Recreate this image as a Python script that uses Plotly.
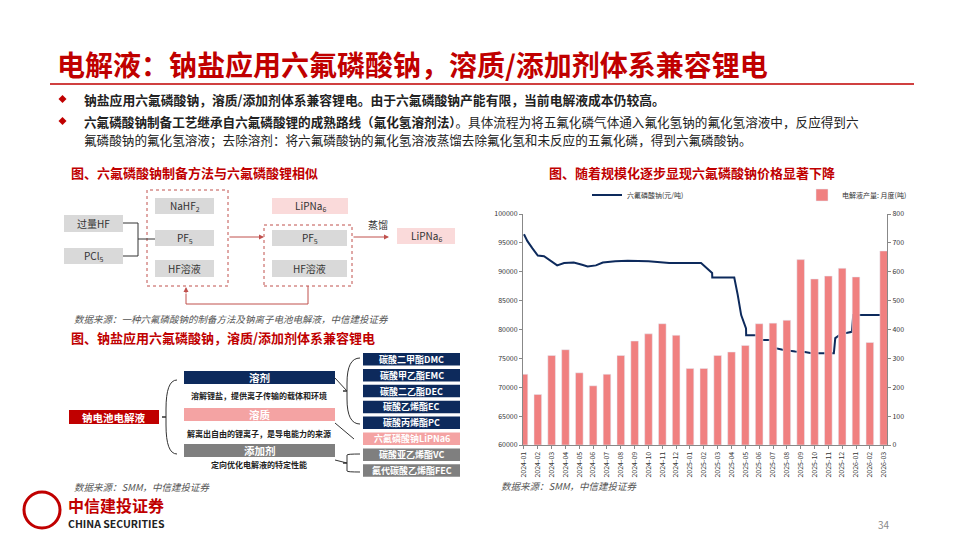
import plotly.graph_objects as go

W, H = 960, 540
FONT = "Noto Sans CJK SC"
RED = "#c00000"
NAVY = "#0d2a5c"
PINK = "#f4a3a3"
GRAY = "#d9d9d9"
DGRAY = "#7f7f7f"

months = ["2024-01", "2024-02", "2024-03", "2024-04", "2024-05", "2024-06", "2024-07",
          "2024-08", "2024-09", "2024-10", "2024-11", "2024-12", "2025-01", "2025-02",
          "2025-03", "2025-04", "2025-05", "2025-06", "2025-07", "2025-08", "2025-09",
          "2025-10", "2025-11", "2025-12", "2026-01", "2026-02", "2026-03"]
output_t = [245, 175, 310, 330, 250, 205, 245, 310, 360, 385, 420, 380, 265, 265,
            310, 322, 345, 420, 422, 432, 642, 575, 585, 612, 582, 355, 672]
# price series, x as month position
price_x = [0, 0.25, 0.6, 1.0, 1.45, 1.95, 2.4, 2.9, 3.6, 4.2, 4.6, 5.2, 5.7, 6.6, 7.5,
           9.0, 10.5, 12.8, 13.2, 13.6, 13.61, 15.2, 15.45, 15.7, 16.05, 16.06, 16.8,
           17.0, 17.9, 18.1, 18.7, 19.6, 20.3, 20.8, 22.4, 22.5, 22.9, 23.7, 23.8, 26.1, 26.2]
price_y = [96500, 95300, 94100, 92800, 92700, 91800, 91100, 91500, 91600, 91200, 90900,
           91100, 91600, 91800, 91900, 91800, 91500, 91500, 90600, 89800, 89000, 89000,
           86000, 82500, 80200, 79000, 79000, 78200, 78200, 76800, 76500, 76200, 76100,
           75900, 75900, 78500, 79200, 79600, 82500, 82500, 81400]

OFF = 6  # page margin of the html body


def px(x):
    return (x - OFF) / W


def py(y):
    return 1 - (y - OFF) / H


fig = go.Figure()
fig.add_trace(go.Bar(x=list(range(len(months))), y=output_t, name="电解液产量: 月度(吨)",
                     marker_color="#f08080", width=0.55, yaxis="y2"))
fig.add_trace(go.Scatter(x=price_x, y=price_y, name="六氟磷酸钠(元/吨)", mode="lines",
                         line=dict(color=NAVY, width=2)))

shapes, ann = [], []


def box(x0, y0, x1, y1, fill, line=None, dash=None):
    shapes.append(dict(type="rect", xref="paper", yref="paper", x0=px(x0), x1=px(x1),
                       y0=py(y1), y1=py(y0), fillcolor=fill,
                       line=dict(color=line or fill, width=1 if line else 0, dash=dash)))


def text(x, y, s, size=10, color="#333", bold=False, anchor="center", italic=False):
    if bold:
        s = "<b>" + s + "</b>"
    if italic:
        s = "<i>" + s + "</i>"
    ann.append(dict(x=px(x), y=py(y), xref="paper", yref="paper", text=s, showarrow=False,
                    xanchor=anchor, yanchor="middle", font=dict(size=size, color=color, family=FONT)))


def tbox(x0, y0, x1, y1, s, fill, color="#333", size=10, bold=False):
    box(x0, y0, x1, y1, fill)
    text((x0 + x1) / 2, (y0 + y1) / 2, s, size, color, bold)


def line(pts, color="#333", width=1):
    d = "M " + " L ".join(f"{px(a)},{py(b)}" for a, b in pts)
    shapes.append(dict(type="path", xref="paper", yref="paper", path=d,
                       line=dict(color=color, width=width)))


def arrow(x0, y0, x1, y1, color="#c0504d"):
    ann.append(dict(x=px(x1), y=py(y1), ax=x0 - x1, ay=y0 - y1, xref="paper", yref="paper",
                    axref="pixel", ayref="pixel", text="", showarrow=True, arrowhead=2,
                    arrowsize=1, arrowwidth=1, arrowcolor=color))


def brace(x, y0, y1, tip, color="#333"):
    m = (y0 + y1) / 2
    d = (f"M {px(x)},{py(y0)} Q {px(tip)},{py(y0)} {px(tip)},{py(m - 8)} "
         f"L {px(tip)},{py(m)} L {px(tip - 4)},{py(m)} L {px(tip)},{py(m)} "
         f"L {px(tip)},{py(m + 8)} Q {px(tip)},{py(y1)} {px(x)},{py(y1)}")
    shapes.append(dict(type="path", xref="paper", yref="paper", path=d,
                       line=dict(color=color, width=1)))


# header
text(53, 62, "电解液：钠盐应用六氟磷酸钠，溶质/添加剂体系兼容锂电", 28, RED, True, "left")
line([(48, 82), (912, 82)], RED, 1.5)
for yy in (97, 119):
    d = (f"M {px(60.5)},{py(yy - 4)} L {px(64.5)},{py(yy)} L {px(60.5)},{py(yy + 4)} "
         f"L {px(56.5)},{py(yy)} Z")
    shapes.append(dict(type="path", xref="paper", yref="paper", path=d, fillcolor=RED,
                       line_width=0))
text(80, 97, "<b>钠盐应用六氟磷酸钠，溶质/添加剂体系兼容锂电。由于六氟磷酸钠产能有限，当前电解液成本仍较高。</b>",
     12.8, "#222", anchor="left")
text(80, 119, "<b>六氟磷酸钠制备工艺继承自六氟磷酸锂的成熟路线（氟化氢溶剂法）</b>。具体流程为将五氟化磷气体通入氟化氢钠的氟化氢溶液中，反应得到六",
     12.6, "#222", anchor="left")
text(80, 137, "氟磷酸钠的氟化氢溶液；去除溶剂：将六氟磷酸钠的氟化氢溶液蒸馏去除氟化氢和未反应的五氟化磷，得到六氟磷酸钠。",
     12.6, "#222", anchor="left")

# left diagram 1
text(67, 170, "图、六氟磷酸钠制备方法与六氟磷酸锂相似", 13, RED, True, "left")
tbox(62, 213, 121, 230, "过量HF", GRAY)
tbox(62, 246, 121, 262, "PCl<sub>5</sub>", GRAY)
box(145, 188, 226, 284, "rgba(0,0,0,0)", "#c0504d", "dot")
tbox(153, 196, 212, 212, "NaHF<sub>2</sub>", GRAY)
tbox(153, 228, 212, 244, "PF<sub>5</sub>", GRAY)
tbox(153, 258, 212, 275, "HF溶液", GRAY)
line([(121, 221), (136, 221), (136, 254), (121, 254)])
line([(136, 237), (153, 237)])
arrow(226, 235, 262, 235)
tbox(270, 196, 346, 212, "LiPNa<sub>6</sub>", "#fadada")
box(262, 223, 350, 284, "rgba(0,0,0,0)", "#c0504d", "dot")
tbox(270, 228, 345, 244, "PF<sub>5</sub>", GRAY)
tbox(270, 258, 345, 275, "HF溶液", GRAY)
arrow(350, 235, 387, 235)
text(376, 222, "蒸馏", 10)
tbox(395, 226, 453, 242, "LiPNa<sub>6</sub>", "#fadada")
line([(306, 284), (306, 302), (184, 302), (184, 292)], "#c0504d")
arrow(184, 293, 184, 285)
text(70, 317, "数据来源：一种六氟磷酸钠的制备方法及钠离子电池电解液，中信建投证券", 9.5, "#555", anchor="left", italic=True)

# left diagram 2
text(67, 335, "图、钠盐应用六氟磷酸钠，溶质/添加剂体系兼容锂电", 13, RED, True, "left")
tbox(67, 408, 157, 422, "钠电池电解液", "#c00000", "white", 10.5, True)
brace(175, 378, 452, 164)
tbox(182, 369, 333, 382, "溶剂", NAVY, "white", 10.5, True)
text(257, 393, "溶解锂盐，提供离子传输的载体和环境", 8, "#222", True)
tbox(182, 406, 333, 419, "溶质", PINK, "white", 10.5, True)
text(257, 431, "解离出自由的锂离子，是导电能力的来源", 8, "#222", True)
tbox(182, 442, 333, 455, "添加剂", DGRAY, "white", 10.5, True)
text(257, 462, "定向优化电解液的特定性能", 8, "#222", True)
right = [("碳酸二甲酯DMC", NAVY), ("碳酸甲乙酯EMC", NAVY), ("碳酸二乙酯DEC", NAVY),
         ("碳酸乙烯酯EC", NAVY), ("碳酸丙烯酯PC", NAVY), ("六氟磷酸钠LiPNa6", PINK),
         ("碳酸亚乙烯酯VC", DGRAY), ("氟代碳酸乙烯酯FEC", DGRAY)]
for i, (s, c) in enumerate(right):
    y0 = 351 + i * 15.9
    tbox(361, y0, 458, y0 + 12.5, s, c, "white", 9, True)
brace(358, 356, 422, 345)
brace(358, 452, 470, 345)
line([(333, 376), (345, 389)])
line([(333, 421), (352, 437)])
line([(333, 458), (345, 461)])
text(70, 485, "数据来源：SMM，中信建投证券", 9.5, "#555", anchor="left", italic=True)

# right chart
text(690, 170, "图、随着规模化逐步显现六氟磷酸钠价格显著下降", 13, RED, True)
text(497, 484, "数据来源：SMM，中信建投证券", 9.5, "#555", anchor="left", italic=True)

# footer
shapes.append(dict(type="circle", xref="paper", yref="paper", x0=px(22), x1=px(58),
                   y0=py(526), y1=py(490), line=dict(color=RED, width=3)))
text(64, 503, "中信建投证券", 16, RED, True, "left")
text(64, 521, "CHINA SECURITIES", 10.5, "#222", True, "left")
text(890, 522, "34", 10, "#888", anchor="right")

ax_font = dict(size=7, color="#333", family=FONT)
common = dict(tickfont=ax_font, showline=True, linecolor="#888", ticks="outside",
              ticklen=3, tickcolor="#888", showgrid=False, automargin=False)
fig.update_layout(
    width=W, height=H, margin=dict(l=0, r=0, t=0, b=0, autoexpand=False),
    paper_bgcolor="white", plot_bgcolor="white", font=dict(family=FONT),
    shapes=shapes, annotations=ann, bargap=0.45,
    showlegend=True,
    legend=dict(orientation="h", x=px(585), y=py(193), yanchor="middle", xanchor="left",
                font=dict(size=7, color="#333"), traceorder="reversed",
                entrywidth=170, itemwidth=30, bgcolor="rgba(0,0,0,0)"),
    xaxis=dict(domain=[px(521), px(885)], range=[-0.07, 26.24],
               tickvals=list(range(len(months))), ticktext=months, tickangle=-90, **common),
    yaxis=dict(domain=[py(443), py(212)], range=[60000, 100000], dtick=5000,
               tickformat="d", **common),
    yaxis2=dict(overlaying="y", side="right", range=[0, 800], dtick=100,
                anchor="x", **common),
)
fig.write_html("out.html")
